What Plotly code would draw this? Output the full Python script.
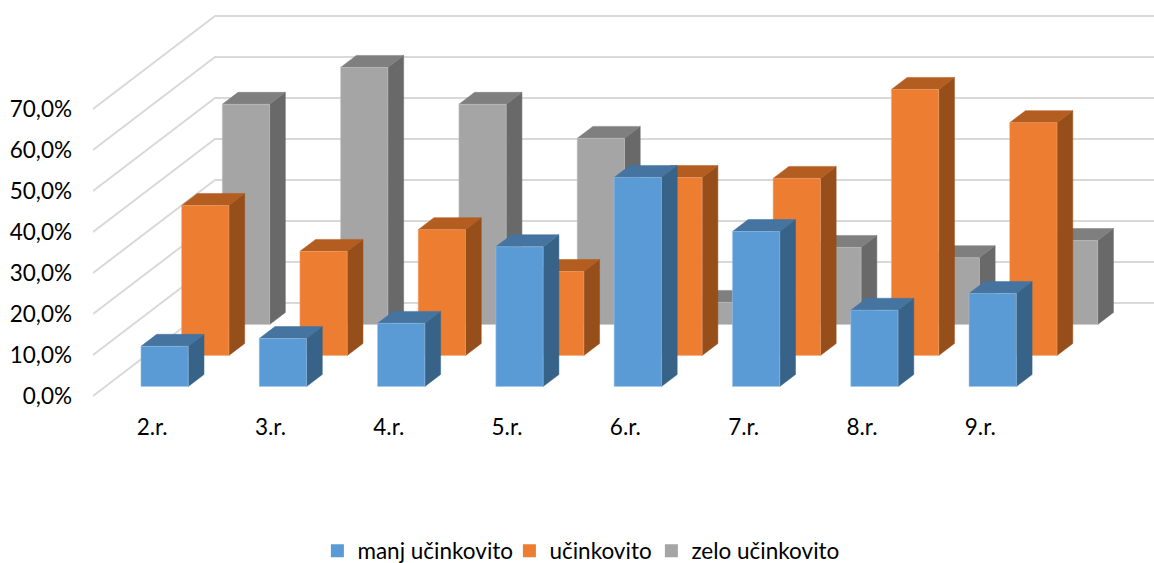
import plotly.graph_objects as go

categories = ["2.r.", "3.r.", "4.r.", "5.r.", "6.r.", "7.r.", "8.r.", "9.r."]
manj_ucinkovito = [9.8, 11.7, 15.4, 34.1, 51.0, 37.8, 18.6, 22.7]
ucinkovito = [36.6, 25.4, 30.7, 20.5, 43.4, 43.2, 64.9, 56.8]
zelo_ucinkovito = [53.7, 62.7, 53.7, 45.4, 5.4, 18.8, 16.3, 20.5]
y_ticks = [0, 10, 20, 30, 40, 50, 60, 70]
y_tick_labels = ["0,0%", "10,0%", "20,0%", "30,0%", "40,0%", "50,0%", "60,0%", "70,0%"]

FONT = "Lato"
FONT_SIZE = 22.5
TEXT = "#000000"
GRID = "#D9D9D9"

W, H = 1154, 600
PLOT_H = 397
L, T, B = 93, 8, H - PLOT_H - 8
PX_CAT = 118.3
PX_VAL = 4.1
SLOT_DX = 40.67 / PX_CAT      # category units moved per series slot of depth
SLOT_DY = 31.0 / PX_VAL       # value units moved per series slot of depth
BAR_W = 0.4
BAR_FRONT = 0.306
BAR_DEPTH = 0.387

series = [
    ("zelo učinkovito", zelo_ucinkovito, 2, "#A5A5A5", "#7F7F7F", "#696969", "rgba(200,200,200,0.5)"),
    ("učinkovito", ucinkovito, 1, "#ED7D31", "#B35D21", "#964F1B", "rgba(246,170,120,0.5)"),
    ("manj učinkovito", manj_ucinkovito, 0, "#5B9BD5", "#44749F", "#376388", "rgba(160,200,235,0.5)"),
]
legend_text_left = {"manj učinkovito": 358, "učinkovito": 550, "zelo učinkovito": 692}


def proj(cat, val, depth):
    return cat + depth * SLOT_DX, val + depth * SLOT_DY


def polygons(cells):
    xs, ys = [], []
    for cell in cells:
        pts = [proj(*p) for p in cell] + [proj(*cell[0])]
        xs += [p[0] for p in pts] + [None]
        ys += [p[1] for p in pts] + [None]
    return xs, ys


fig = go.Figure()

# walls: back-wall gridlines and the diagonals on the side wall
left = -0.5
far = left + 8.5
gx, gy = [], []
for v in y_ticks:
    for p in ((left, v, 0), (left, v, 3), (far, v, 3)):
        x, y = proj(*p)
        gx.append(x)
        gy.append(y)
    gx.append(None)
    gy.append(None)
fig.add_trace(go.Scatter(x=gx, y=gy, mode="lines", line=dict(color=GRID, width=2),
                         showlegend=False, hoverinfo="skip"))

for name, values, slot, front, top, side, edge in series:
    d0 = slot + BAR_FRONT
    d1 = d0 + BAR_DEPTH
    sides, tops, fronts = [], [], []
    for i, v in enumerate(values):
        a, b = i - BAR_W / 2, i + BAR_W / 2
        sides.append([(b, 0, d0), (b, 0, d1), (b, v, d1), (b, v, d0)])
        tops.append([(a, v, d0), (b, v, d0), (b, v, d1), (a, v, d1)])
        fronts.append([(a, 0, d0), (b, 0, d0), (b, v, d0), (a, v, d0)])
    for cells, col, ln, lw in ((sides, side, side, 0.5), (tops, top, top, 0.5), (fronts, front, edge, 1)):
        xs, ys = polygons(cells)
        fig.add_trace(go.Scatter(x=xs, y=ys, mode="lines", fill="toself", fillcolor=col,
                                 line=dict(color=ln, width=lw), showlegend=False, name=name,
                                 hoverinfo="skip"))

# one legend per entry so the three can sit at the reference's own spacing
plot_w = W - L
legends = {}
for n, (name, values, slot, front, top, side, edge) in enumerate(reversed(series), start=1):
    key = "legend" if n == 1 else f"legend{n}"
    fig.add_trace(go.Scatter(x=[None], y=[None], mode="markers", name=name, legend=key,
                             marker=dict(symbol="square", size=13, color=front)))
    legends[key] = dict(orientation="h", xanchor="left", yanchor="middle",
                        x=(legend_text_left[name] - 40.6 - L) / plot_w,
                        y=(PLOT_H + T - 551) / PLOT_H,
                        font=dict(family=FONT, size=FONT_SIZE, color=TEXT),
                        itemwidth=30, bgcolor="rgba(0,0,0,0)")

y0_fig = 396
fig.update_layout(
    width=W, height=H,
    autosize=False,
    margin=dict(l=L, r=0, t=T, b=B, pad=0),
    paper_bgcolor="white", plot_bgcolor="white",
    font=dict(family=FONT, size=FONT_SIZE, color=TEXT),
    showlegend=True,
    xaxis=dict(range=[left, left + plot_w / PX_CAT], tickmode="array",
               tickvals=list(range(len(categories))), ticktext=categories,
               showgrid=False, zeroline=False, showline=False, ticks="", ticklabelstandoff=6,
               fixedrange=True),
    yaxis=dict(range=[(y0_fig - (T + PLOT_H)) / PX_VAL, (y0_fig - T) / PX_VAL], tickmode="array",
               tickvals=y_ticks, ticktext=y_tick_labels,
               showgrid=False, zeroline=False, showline=False, ticks="", ticklabelstandoff=20,
               fixedrange=True),
    **legends,
)

fig.write_html("out.html", config={"displayModeBar": False},
               default_width=f"{W}px", default_height=f"{H}px",
               post_script="document.body.style.margin='0';document.documentElement.style.overflow='hidden';")
